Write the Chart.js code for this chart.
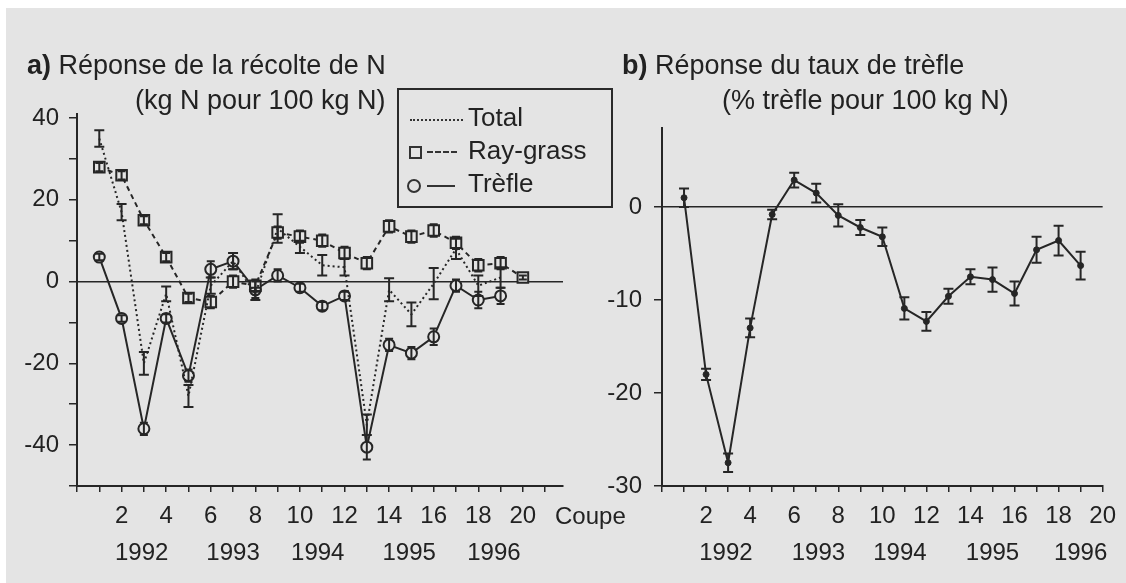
<!DOCTYPE html>
<html><head><meta charset="utf-8">
<script src="https://cdn.jsdelivr.net/npm/chart.js@4.4.1/dist/chart.umd.min.js"></script>
<style>
html,body{margin:0;padding:0;background:#fff;width:1126px;height:583px;overflow:hidden;}
#page{position:absolute;left:6px;top:8px;width:1120px;height:575px;background:#e4e4e4;}
.t{position:absolute;font-family:"Liberation Sans",Arial,sans-serif;color:#222;white-space:nowrap;}
canvas{position:absolute;top:0;}
#leg{position:absolute;left:397px;top:88px;width:212px;height:116px;border:2px solid #2a2a2a;box-sizing:content-box;}
.s{position:absolute;}
</style></head><body>
<div id="page"></div>
<canvas id="ca" width="650" height="583" style="left:0;width:650px;height:583px"></canvas>
<canvas id="cb" width="566" height="583" style="left:560px;width:566px;height:583px"></canvas>

<div class="t" style="left:27px;top:52px;font-size:27px;line-height:27px"><b>a)</b> Réponse de la récolte de N</div>
<div class="t" style="left:135px;top:87px;font-size:27px;line-height:27px">(kg N pour 100 kg N)</div>
<div class="t" style="left:622px;top:52px;font-size:27px;line-height:27px"><b>b)</b> Réponse du taux de trèfle</div>
<div class="t" style="left:722px;top:87px;font-size:27px;line-height:27px">(% trèfle pour 100 kg N)</div>

<div id="leg"></div>
<div class="s" style="left:410px;top:119px;width:53px;border-top:2px dotted #333"></div>
<div class="s" style="left:409px;top:146px;width:9px;height:9px;border:2px solid #333"></div>
<div class="s" style="left:427px;top:151px;width:30px;border-top:2px dashed #333"></div>
<div class="s" style="left:407px;top:179px;width:10px;height:10px;border:2px solid #333;border-radius:50%"></div>
<div class="s" style="left:427px;top:185px;width:28px;border-top:2px solid #333"></div>
<div class="t" style="left:468px;top:104px;font-size:26px;line-height:26px">Total</div>
<div class="t" style="left:468px;top:137px;font-size:26px;line-height:26px">Ray-grass</div>
<div class="t" style="left:468px;top:170px;font-size:26px;line-height:26px">Trèfle</div>

<script>
// ---------- DATA ----------
const coupes = [1,2,3,4,5,6,7,8,9,10,11,12,13,14,15,16,17,18,19,20];
// Panel a) kg N pour 100 kg N
const totalA     = [35, 17, -20, -3, -28, -1, 5, -3, 13, 8.5, 4, 3.5, -35, -2, -8, -0.5, 8, -1, 1, null];
const totalErrA  = [2, 2, 2.8, 1.8, 2.7, 2, 2, 1.5, 3.5, 1.5, 2.5, 2, 2.5, 2.8, 2.9, 3.8, 2.5, 2.5, 2.5, null];
const raygrassA  = [28, 26, 15, 6, -4, -5, 0, -1, 12, 11, 10, 7, 4.5, 13.5, 11, 12.5, 9.5, 4, 4.5, 1];
const raygrassErrA = [1, 1, 1, 1, 1, 1.5, 1.5, 1.5, 1.5, 1.5, 1.5, 1.5, 1.5, 1.5, 1.5, 1.5, 1.5, 1.5, 1.5, 0.5];
const trefleA    = [6, -9, -36, -9, -23, 3, 5, -2, 1.5, -1.5, -6, -3.5, -40.5, -15.5, -17.5, -13.5, -1, -4.5, -3.5, null];
const trefleErrA = [0.8, 0.8, 1.5, 1, 1.5, 2, 2, 2, 1.5, 1, 1, 1, 3, 1.5, 1.5, 2, 1.5, 2, 2, null];
// Panel b) % trèfle pour 100 kg N
const coupesB  = [1,2,3,4,5,6,7,8,9,10,11,12,13,14,15,16,17,18,19];
const trefleB  = [1, -18, -27.5, -13, -0.8, 2.9, 1.5, -0.9, -2.2, -3.2, -10.9, -12.3, -9.6, -7.5, -7.8, -9.3, -4.6, -3.6, -6.3];
const trefleErrB = [1, 0.6, 1, 1, 0.5, 0.8, 1, 1.2, 0.8, 1, 1.2, 1, 0.8, 0.8, 1.3, 1.3, 1.4, 1.6, 1.5];
// ticks
const xTicksA = [0,1,2,3,4,5,6,7,8,9,10,11,12,13,14,15,16,17,18,19,20,21];
const xTicksB = [0,1,2,3,4,5,6,7,8,9,10,11,12,13,14,15,16,17,18,19,20];
const xLabels = [2,4,6,8,10,12,14,16,18,20];
const yTicksA = [-50,-40,-30,-20,-10,0,10,20,30,40];
const yLabelsA = [-40,-20,0,20,40];
const yTicksB = [-30,-20,-10,0];
const yLabelsB = [-30,-20,-10,0];
const years = ['1992','1993','1994','1995','1996'];
const yearPosA = [2.9, 7, 10.8, 14.9, 18.7];
const yearPosB = [2.9, 7.1, 10.8, 15, 19];

// ---------- STYLE ----------
const ink = '#262626';
const bg = '#e4e4e4';
Chart.defaults.font.family = '"Liberation Sans", Arial, sans-serif';
Chart.defaults.font.size = 24;
Chart.defaults.color = '#222';

const pts = (xs, ys) => xs.map((x,i)=>({x:x, y:ys[i]}));

const errorBars = {
  id:'errorBars',
  afterDatasetsDraw(chart){
    const ctx = chart.ctx, xs = chart.scales.x, ys = chart.scales.y;
    chart.data.datasets.forEach(ds=>{
      if(!ds.err) return;
      ctx.save(); ctx.strokeStyle = ink; ctx.lineWidth = 2; ctx.setLineDash([]);
      ds.data.forEach((p,j)=>{
        const e = ds.err[j];
        if(p.y==null || e==null) return;
        const x = xs.getPixelForValue(p.x);
        const y1 = ys.getPixelForValue(p.y - e), y2 = ys.getPixelForValue(p.y + e);
        const c = ds.cap || 4;
        ctx.beginPath();
        ctx.moveTo(x,y1); ctx.lineTo(x,y2);
        ctx.moveTo(x-c,y1); ctx.lineTo(x+c,y1);
        ctx.moveTo(x-c,y2); ctx.lineTo(x+c,y2);
        ctx.stroke();
      });
      ctx.restore();
    });
  }
};

const yearLabels = {
  id:'yearLabels',
  afterDraw(chart, args, opts){
    const ctx = chart.ctx, xs = chart.scales.x;
    ctx.save(); ctx.fillStyle = '#222'; ctx.font = '24px "Liberation Sans", Arial, sans-serif';
    ctx.textAlign='center'; ctx.textBaseline='middle';
    opts.pos.forEach((v,i)=> ctx.fillText(years[i], xs.getPixelForValue(v), 553));
    if(opts.coupe){ ctx.textAlign='left'; ctx.fillText('Coupe', xs.right - 8, 517); }
    ctx.restore();
  }
};

function axes(xTicks, xMax, yTicks, yLabels, yMin, yMax, yW, yPad){
  return {
    x:{type:'linear', min:0, max:xMax,
      afterBuildTicks:s=>{s.ticks = xTicks.map(v=>({value:v}));},
      afterFit:s=>{s.height = 97;},
      grid:{drawOnChartArea:false, drawTicks:true, tickLength:6, color:ink, tickColor:ink, lineWidth:1.5},
      border:{display:true, color:ink, width:2},
      ticks:{autoSkip:false, maxRotation:0, padding:10, callback:v=> xLabels.includes(v) ? String(v) : ''}},
    y:{type:'linear', min:yMin, max:yMax,
      afterBuildTicks:s=>{s.ticks = yTicks.map(v=>({value:v}));},
      afterFit:s=>{s.width = yW;},
      grid:{drawOnChartArea:true, drawTicks:true, tickLength:8, lineWidth:1.5,
        color:c=> c.tick && c.tick.value===0 ? ink : 'rgba(0,0,0,0)', tickColor:ink},
      border:{display:true, color:ink, width:2},
      ticks:{autoSkip:false, padding:yPad, callback:v=> yLabels.includes(v) ? String(v) : ''}}
  };
}

new Chart(document.getElementById('ca'), {
  type:'line',
  data:{datasets:[
    {label:'Total', data:pts(coupes,totalA), err:totalErrA, cap:5, borderColor:ink, borderWidth:2, borderDash:[2,3], pointRadius:0, fill:false, tension:0},
    {label:'Ray-grass', data:pts(coupes,raygrassA), err:raygrassErrA, cap:4, borderColor:ink, borderWidth:2, borderDash:[5,4], pointStyle:'rect', pointRadius:7.5, pointBorderWidth:2, pointBorderColor:ink, pointBackgroundColor:bg, fill:false, tension:0},
    {label:'Trèfle', data:pts(coupes,trefleA), err:trefleErrA, cap:4, borderColor:ink, borderWidth:2, pointStyle:'circle', pointRadius:5.5, pointBorderWidth:2, pointBorderColor:ink, pointBackgroundColor:bg, fill:false, tension:0}
  ]},
  options:{responsive:false, animation:false, devicePixelRatio:1,
    layout:{padding:{top:114, left:0, right:87, bottom:0}},
    plugins:{legend:{display:false}, tooltip:{enabled:false}, yearLabels:{pos:yearPosA, coupe:true}},
    scales:axes(xTicksA, 21.8, yTicksA, yLabelsA, -50, 41, 77, 10)},
  plugins:[errorBars, yearLabels]
});

new Chart(document.getElementById('cb'), {
  type:'line',
  data:{datasets:[
    {label:'Trèfle', data:pts(coupesB,trefleB), err:trefleErrB, cap:5, borderColor:ink, borderWidth:2, pointStyle:'circle', pointRadius:3, pointBorderWidth:1, pointBorderColor:ink, pointBackgroundColor:ink, fill:false, tension:0}
  ]},
  options:{responsive:false, animation:false, devicePixelRatio:1,
    layout:{padding:{top:128, left:0, right:19, bottom:0}},
    plugins:{legend:{display:false}, tooltip:{enabled:false}, yearLabels:{pos:yearPosB, coupe:false}},
    scales:axes(xTicksB, 20, yTicksB, yLabelsB, -30, 8.5, 102, 12)},
  plugins:[errorBars, yearLabels]
});
</script>
</body></html>
